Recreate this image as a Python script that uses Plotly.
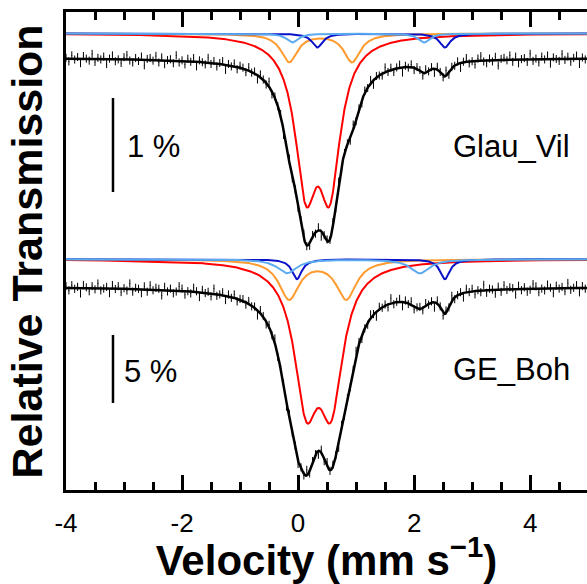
import numpy as np
import plotly.graph_objects as go

# ---------------- data ----------------
# velocity channels (mm/s)
v_start, v_stop, v_step = -4.0, 5.0, 0.05

component_colors = ["#ff0000", "#ff9a2e", "#5aaaf0", "#0a10c8"]   # red, orange, light blue, dark blue
draw_order = [0, 1, 3, 2]

# Glau_Vil fit parameters: positions of the two doublet lines (mm/s), HWHM (mm/s), line depth (%)
glau_line1 = [0.135, -0.155, -0.10, 0.33]
glau_line2 = [0.545, 0.93, 2.17, 2.53]
glau_hwhm = [0.225, 0.17, 0.12, 0.11]
glau_depth = [1.49, 0.30, 0.096, 0.149]
glau_comp_offset = 0.26      # % shift of component curves above the spectrum
glau_sigma = 0.043           # % statistical error per channel

# GE_Boh fit parameters
ge_line1 = [0.14, -0.155, -0.19, -0.02]
ge_line2 = [0.57, 0.83, 2.10, 2.53]
ge_hwhm = [0.248, 0.21, 0.20, 0.10]
ge_depth = [9.57, 2.87, 1.03, 1.47]
ge_comp_offset = 2.04
ge_sigma = 0.30

# residuals of the measured points (in units of sigma)
residuals = [0.3, -0.8, 1.1, -0.2, 0.6, -1.3, 0.9, 0.1, -0.5, 1.6, -0.9, 0.4, -0.1, 0.8,
             -1.5, 0.2, 1.2, -0.6, 0.0, -1.1, 0.7, 1.4, -0.3, -0.9, 0.5, -0.4, 1.0, -1.7,
             0.3, 0.6, -0.2, 1.3, -0.7, 0.9, -1.2, 0.1, 0.4, -0.8, 1.7, -0.5, 0.2, -1.0,
             0.8, -0.1, 1.1, -1.4, 0.5, 0.0, -0.6, 1.5, -0.3, 0.7, -0.9, 0.3, 1.0, -1.6,
             0.4, -0.2, 0.9, -0.7, 0.6]

scale_bar_labels = ["1 %", "5 %"]
sample_labels = ["Glau_Vil", "GE_Boh"]
tick_values = [-4, -2, 0, 2, 4]
tick_labels = ["-4", "-2", "0", "2", "4"]

# ---------------- build ----------------
v = np.arange(v_start, v_stop + 1e-9, v_step)
vf = np.linspace(v_start, v_stop, 1500)


def doublet(x, c1, c2, g, d):
    return d / (1 + ((x - c1) / g) ** 2) + d / (1 + ((x - c2) / g) ** 2)


fig = go.Figure()

spectra = [
    (glau_line1, glau_line2, glau_hwhm, glau_depth, glau_comp_offset, glau_sigma, "y", residuals),
    (ge_line1, ge_line2, ge_hwhm, ge_depth, ge_comp_offset, ge_sigma, "y2", residuals[::-1]),
]

for l1, l2, hw, dp, off, sig, yax, res in spectra:
    comps_f = [doublet(vf, l1[i], l2[i], hw[i], dp[i]) for i in range(4)]
    comps_c = [doublet(v, l1[i], l2[i], hw[i], dp[i]) for i in range(4)]
    total_f = 100 - sum(comps_f)
    total_c = 100 - sum(comps_c)
    r = np.resize(np.array(res), v.size)
    meas = total_c + 0.8 * r * sig
    fig.add_trace(go.Scatter(
        x=v, y=meas, yaxis=yax, mode="markers",
        marker=dict(size=1, color="black"),
        error_y=dict(type="constant", value=sig, thickness=1, width=0, color="black"),
        showlegend=False, hoverinfo="skip"))
    for i in draw_order:
        fig.add_trace(go.Scatter(
            x=vf, y=100 + off - comps_f[i], yaxis=yax, mode="lines",
            line=dict(color=component_colors[i], width=2), showlegend=False))
    fig.add_trace(go.Scatter(
        x=vf, y=total_f, yaxis=yax, mode="lines",
        line=dict(color="black", width=2.5), showlegend=False))

# scale bars
fig.add_trace(go.Scatter(x=[-3.19, -3.19], y=[99.574, 98.574], yaxis="y", mode="lines",
                         line=dict(color="black", width=2.5), showlegend=False))
fig.add_trace(go.Scatter(x=[-3.19, -3.19], y=[96.47, 91.47], yaxis="y2", mode="lines",
                         line=dict(color="black", width=2.5), showlegend=False))

font_family = "Liberation Sans, Arial, sans-serif"
ann = [
    dict(x=-2.99, y=99.053, yref="y", text=scale_bar_labels[0]),
    dict(x=-3.03, y=93.75, yref="y2", text=scale_bar_labels[1]),
    dict(x=2.64, y=99.053, yref="y", text=sample_labels[0]),
    dict(x=2.63, y=93.9, yref="y2", text=sample_labels[1]),
]
annotations = []
for a in ann:
    annotations.append(dict(x=a["x"], y=a["y"], xref="x", yref=a["yref"], text=a["text"],
                            showarrow=False, xanchor="left", yanchor="middle",
                            font=dict(size=31, color="black", family=font_family)))
annotations.append(dict(x=-0.074, y=0.5, xref="paper", yref="paper",
                        text="<b>Relative Transmission</b>", textangle=-90,
                        showarrow=False, xanchor="center", yanchor="middle",
                        font=dict(size=43, color="black", family=font_family)))

fig.update_layout(
    width=587, height=584,
    margin=dict(l=66, r=0, t=12, b=94),
    paper_bgcolor="white", plot_bgcolor="white",
    font=dict(family=font_family, color="black"),
    annotations=annotations,
    xaxis=dict(range=[-4, 4.98], tickvals=tick_values, ticktext=tick_labels,
               ticks="inside", ticklen=15, tickwidth=3, tickcolor="black",
               ticklabelstandoff=8,
               minor=dict(dtick=0.5, tick0=0, ticks="inside", ticklen=8, tickwidth=2.5,
                          tickcolor="black"),
               showline=True, linewidth=3, linecolor="black", mirror="ticks",
               showgrid=False, zeroline=False, automargin=False,
               tickfont=dict(size=26, family=font_family, color="black"),
               title=dict(text="<b>Velocity (mm s<sup>−1</sup>)</b>",
                          font=dict(size=42, family=font_family, color="black"),
                          standoff=0)),
    yaxis=dict(range=[95.404, 100.489], showline=True, linewidth=3, linecolor="black",
               mirror=False, showticklabels=False, ticks="", showgrid=False, zeroline=False),
    yaxis2=dict(range=[85.07, 120.22], overlaying="y", visible=False),
)

fig.write_html("out.html", config={"displayModeBar": False},
               post_script="document.body.style.margin='0';document.body.style.overflow='hidden';")
